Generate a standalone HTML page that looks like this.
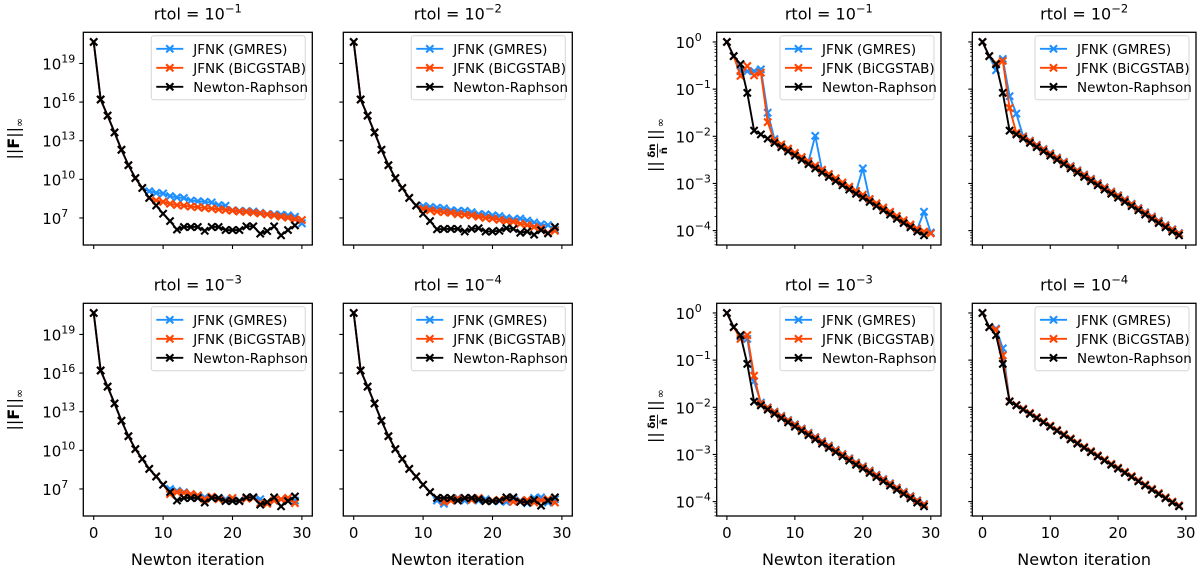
<!DOCTYPE html>
<html><head><meta charset="utf-8"><title>Newton convergence</title>
<style>
html,body{margin:0;padding:0;background:#fff;}
svg{display:block;font-family:"DejaVu Sans","Liberation Sans",sans-serif;}
</style></head>
<body>
<svg id="fig" width="1200" height="573" viewBox="0 0 1200 573" xmlns="http://www.w3.org/2000/svg"></svg>
<script>
// ---------- DATA (log10 of plotted values) ----------
const iterTicks = [0, 10, 20, 30];
const leftYTicks = [7, 10, 13, 16, 19];
const rightYTicks = [-4, -3, -2, -1, 0];
const rtolExps = [-1, -2, -3, -4];

const nrF1 = [20.67,16.2,14.95,13.64,12.3,11.1,10.1,9.33,8.56,7.97,7.33,6.76,6.1,6.3,6.3,6.3,6.0,6.3,6.3,6.06,6.06,6.06,6.35,6.35,5.78,5.98,6.35,5.65,6.06,6.42];
const nrF2 = [20.67,16.2,14.95,13.64,12.3,11.1,10.1,9.33,8.56,7.97,7.33,6.76,6.12,6.15,6.15,6.15,5.95,6.15,6.2,5.95,5.95,6.0,6.2,6.15,5.85,5.95,5.7,6.05,5.8,6.3];
const nrF3 = [20.67,16.2,14.95,13.64,12.3,11.1,10.1,9.33,8.56,7.97,7.33,6.76,6.1,6.3,6.3,6.3,5.95,6.3,6.3,6.06,6.06,6.06,6.35,6.35,5.78,5.98,6.35,5.65,6.06,6.42];
const nrF4 = [20.67,16.2,14.95,13.64,12.3,11.1,10.1,9.33,8.56,7.97,7.33,6.76,6.3,6.3,6.3,6.1,6.3,6.3,6.2,6.06,6.06,6.1,6.35,6.35,6.0,5.95,6.15,5.7,6.1,6.35];
const gmF1 = [20.67,16.2,14.95,13.64,12.3,11.1,10.1,9.33,9.08,8.95,8.9,8.7,8.6,8.55,8.35,8.3,8.25,8.2,8.0,7.95,7.6,7.55,7.53,7.5,7.4,7.3,7.28,7.25,7.2,7.1,6.58];
const bcF1 = [20.67,16.2,14.95,13.64,12.3,11.1,10.1,9.33,8.56,8.36,8.25,8.1,8.0,7.95,7.88,7.84,7.78,7.73,7.66,7.62,7.57,7.5,7.48,7.42,7.35,7.28,7.2,7.1,7.02,6.9,6.84];
const gmF2 = [20.67,16.2,14.95,13.64,12.3,11.1,10.1,9.33,8.56,7.97,7.93,7.85,7.8,7.75,7.6,7.55,7.55,7.45,7.3,7.28,7.2,7.15,7.0,6.9,6.95,6.8,6.65,6.5,6.45,6.1];
const bcF2 = [20.67,16.2,14.95,13.64,12.3,11.1,10.1,9.33,8.56,7.97,7.7,7.6,7.5,7.45,7.4,7.3,7.25,7.2,7.1,7.0,6.95,6.85,6.75,6.7,6.55,6.45,6.3,6.2,5.85,6.0];
const gmF3 = [20.67,16.2,14.95,13.64,12.3,11.1,10.1,9.33,8.56,7.97,7.33,7.0,6.85,6.75,6.6,6.45,6.35,6.3,6.3,6.2,6.1,6.1,6.3,6.35,6.2,5.9,6.1,6.2,6.3,6.1];
const bcF3 = [20.67,16.2,14.95,13.64,12.3,11.1,10.1,9.33,8.56,7.97,7.33,6.6,6.75,6.7,6.6,6.5,6.2,6.4,6.2,6.1,6.3,6.05,6.25,6.3,5.9,5.85,6.1,6.2,6.3,5.9];
const gmF4 = [20.67,16.2,14.95,13.64,12.3,11.1,10.1,9.33,8.56,7.97,7.33,6.76,6.1,5.85,6.25,6.3,6.1,6.3,6.1,6.2,6.05,6.05,6.0,6.25,6.1,5.9,6.3,6.35,5.95,6.2];
const bcF4 = [20.67,16.2,14.95,13.64,12.3,11.1,10.1,9.33,8.56,7.97,7.33,6.76,6.3,6.0,6.1,6.25,6.3,6.15,6.3,6.05,6.1,6.15,6.2,6.0,6.05,6.15,5.95,6.1,6.2,5.95];

const nrD = [0,-0.3,-0.47,-1.08,-1.88,-1.96,-2.05,-2.14,-2.23,-2.32,-2.41,-2.5,-2.59,-2.68,-2.77,-2.86,-2.95,-3.04,-3.13,-3.22,-3.3,-3.39,-3.48,-3.57,-3.66,-3.75,-3.84,-3.93,-4.02,-4.1];
const gmD1 = [0,-0.3,-0.62,-0.62,-0.62,-0.58,-1.5,-2.06,-2.18,-2.27,-2.36,-2.45,-2.54,-1.99,-2.72,-2.81,-2.9,-2.99,-3.08,-3.17,-2.68,-3.34,-3.43,-3.52,-3.61,-3.7,-3.79,-3.88,-3.97,-3.6,-4.04];
const bcD1 = [0,-0.3,-0.72,-0.51,-0.71,-0.65,-1.7,-2.1,-2.17,-2.26,-2.35,-2.44,-2.53,-2.62,-2.71,-2.8,-2.89,-2.98,-3.07,-3.16,-3.24,-3.33,-3.42,-3.51,-3.6,-3.69,-3.78,-3.87,-3.96,-4.02,-4.06];
const gmD2 = [0,-0.3,-0.6,-0.36,-1.15,-1.52,-2.0,-2.09,-2.18,-2.27,-2.36,-2.45,-2.54,-2.63,-2.72,-2.81,-2.9,-2.99,-3.08,-3.17,-3.25,-3.34,-3.43,-3.52,-3.61,-3.7,-3.79,-3.88,-3.97,-4.05];
const bcD2 = [0,-0.3,-0.45,-0.4,-1.4,-1.93,-2.01,-2.1,-2.19,-2.28,-2.37,-2.46,-2.55,-2.64,-2.73,-2.82,-2.91,-3.0,-3.09,-3.18,-3.26,-3.35,-3.44,-3.53,-3.62,-3.71,-3.8,-3.89,-3.98,-4.06];
const gmD3 = [0,-0.3,-0.5,-0.55,-1.45,-1.9,-2.0,-2.09,-2.18,-2.27,-2.36,-2.45,-2.54,-2.63,-2.72,-2.81,-2.9,-2.99,-3.08,-3.17,-3.25,-3.34,-3.43,-3.52,-3.61,-3.7,-3.79,-3.88,-3.97,-4.05];
const bcD3 = [0,-0.3,-0.55,-0.47,-1.33,-1.93,-2.01,-2.1,-2.19,-2.28,-2.37,-2.46,-2.55,-2.64,-2.73,-2.82,-2.91,-3.0,-3.09,-3.18,-3.26,-3.35,-3.44,-3.53,-3.62,-3.71,-3.8,-3.89,-3.98,-4.06];
const gmD4 = [0,-0.3,-0.33,-0.75,-1.87,-1.95,-2.03,-2.12,-2.21,-2.3,-2.39,-2.48,-2.57,-2.66,-2.75,-2.84,-2.93,-3.02,-3.11,-3.2,-3.28,-3.37,-3.46,-3.55,-3.64,-3.73,-3.82,-3.91,-4.0,-4.08];
const bcD4 = [0,-0.3,-0.35,-0.9,-1.87,-1.95,-2.03,-2.12,-2.21,-2.3,-2.39,-2.48,-2.57,-2.66,-2.75,-2.84,-2.93,-3.02,-3.11,-3.2,-3.28,-3.37,-3.46,-3.55,-3.64,-3.73,-3.82,-3.91,-4.0,-4.08];

const seriesNames = ["JFNK (GMRES)", "JFNK (BiCGSTAB)", "Newton-Raphson"];
const seriesColors = ["#1e90ff", "#ff4500", "#000000"];

// ---------- LAYOUT ----------
const NS = "http://www.w3.org/2000/svg";
const svg = document.getElementById("fig");
const X_DOMAIN = [-1.5, 31.5];
const LEFT_DOMAIN = [4.9, 21.42];
const RIGHT_DOMAIN = [-4.305, 0.205];
const ROWS = [{y: 32.3, h: 212.7}, {y: 303.3, h: 212.7}];
const LEFT_COLS = [{x: 83.3, w: 229}, {x: 343.3, w: 229}];
const RIGHT_COLS = [{x: 716.7, w: 224.3}, {x: 972.3, w: 223.7}];

function el(tag, attrs, parent) {
  const e = document.createElementNS(NS, tag);
  for (const k in attrs) e.setAttribute(k, attrs[k]);
  parent.appendChild(e);
  return e;
}

function drawPanel(opt) {
  const g = el("g", {}, svg);
  
  
  const x0 = opt.x, y0 = opt.y, w = opt.w, h = opt.h;
  const sx = v => x0 + (v - X_DOMAIN[0]) / (X_DOMAIN[1] - X_DOMAIN[0]) * w;
  const sy = v => y0 + h - (v - opt.dom[0]) / (opt.dom[1] - opt.dom[0]) * h;

  const t = el("text", {x: x0 + w / 2, y: y0 - 13, "text-anchor": "middle", "font-size": "16", fill: "#000"}, g);
  
  
  t.textContent = "rtol = 10";
  const sup = el("tspan", {dy: "-7", "font-size": "11.5"}, t);
  sup.textContent = "\u2212" + Math.abs(opt.rtol);

  const seriesList = [opt.gm, opt.bc, opt.nr];
  seriesList.forEach((arr, si) => {
    const sg = el("g", {}, g);
    
    
    const pts = arr.map((v, i) => sx(i).toFixed(2) + "," + sy(v).toFixed(2)).join(" ");
    const pl = el("polyline", {points: pts, fill: "none", stroke: seriesColors[si], "stroke-width": "1.9", "stroke-linejoin": "round"}, sg);
    
    
    arr.forEach((v, i) => {
      const cx = sx(i), cy = sy(v), r = 3.6;
      const m = el("path", {d: `M${cx - r},${cy - r}L${cx + r},${cy + r}M${cx - r},${cy + r}L${cx + r},${cy - r}`, stroke: seriesColors[si], "stroke-width": "2.1", fill: "none"}, sg);
      
      
    });
  });

  const fr = el("rect", {x: x0, y: y0, width: w, height: h, fill: "none", stroke: "#000", "stroke-width": "1.3"}, g);
  
  

  iterTicks.forEach(v => {
    const tx = sx(v);
    const tk = el("line", {x1: tx, x2: tx, y1: y0 + h, y2: y0 + h + 4, stroke: "#000", "stroke-width": "1.1"}, g);
    
    
    if (opt.xlabels) {
      const tl = el("text", {x: tx, y: y0 + h + 22, "text-anchor": "middle", "font-size": "15", fill: "#000"}, g);
      
      
      tl.textContent = String(v);
    }
  });
  if (opt.xlabels) {
    const xl = el("text", {x: x0 + w / 2, y: y0 + h + 49, "text-anchor": "middle", "font-size": "16", fill: "#000"}, g);
    
    
    xl.textContent = "Newton iteration";
  }

  if (opt.minor) {
    for (let d = -5; d <= 0; d++) {
      for (let k = 2; k <= 9; k++) {
        const v = d + Math.log10(k);
        if (v < opt.dom[0] || v > opt.dom[1]) continue;
        const mt = el("line", {x1: x0 - 2.2, x2: x0, y1: sy(v), y2: sy(v), stroke: "#000", "stroke-width": "0.8"}, g);
        
        
      }
    }
  }
  opt.yticks.forEach(v => {
    const ty = sy(v);
    const tk = el("line", {x1: x0 - 4, x2: x0, y1: ty, y2: ty, stroke: "#000", "stroke-width": "1.1"}, g);
    
    
    if (opt.ylabels) {
      const tl = el("text", {x: x0 - 22, y: ty + 6, "text-anchor": "end", "font-size": "15", fill: "#000"}, g);
      
      
      tl.textContent = "10";
      const s = el("tspan", {x: x0 - 22, dy: "-7", "font-size": "11", "text-anchor": "start"}, tl);
      s.textContent = v < 0 ? "\u2212" + Math.abs(v) : String(v);
    }
  });

  const lw = 154, lh = 64;
  const lx = x0 + w - lw - 7, ly = y0 + 3.5;
  const lg = el("g", {}, g);
  
  
  const lb = el("rect", {x: lx, y: ly, width: lw, height: lh, rx: 2.5, fill: "#fff", "fill-opacity": "0.85", stroke: "#d6d6d6", "stroke-width": "1"}, lg);
  
  
  seriesNames.forEach((nm, i) => {
    const ey = ly + 13 + i * 19;
    const eg = el("g", {}, lg);
    
    
    el("line", {x1: lx + 5, x2: lx + 32, y1: ey, y2: ey, stroke: seriesColors[i], "stroke-width": "1.9"}, eg);
    const mx = lx + 18.5, r = 3.6;
    el("path", {d: `M${mx - r},${ey - r}L${mx + r},${ey + r}M${mx - r},${ey + r}L${mx + r},${ey - r}`, stroke: seriesColors[i], "stroke-width": "2.1"}, eg);
    const lt = el("text", {x: lx + 42, y: ey + 5, "font-size": "13.5", fill: "#000"}, eg);
    
    
    lt.textContent = nm;
  });
}

const leftSets = [[gmF1, bcF1, nrF1], [gmF2, bcF2, nrF2], [gmF3, bcF3, nrF3], [gmF4, bcF4, nrF4]];
const rightSets = [[gmD1, bcD1, nrD], [gmD2, bcD2, nrD], [gmD3, bcD3, nrD], [gmD4, bcD4, nrD]];

for (let r = 0; r < 2; r++) {
  for (let c = 0; c < 2; c++) {
    const idx = r * 2 + c;
    drawPanel({name: 'residual-panel-rtol-' + (idx + 1), x: LEFT_COLS[c].x, w: LEFT_COLS[c].w, y: ROWS[r].y, h: ROWS[r].h,
      dom: LEFT_DOMAIN, yticks: leftYTicks, ylabels: c === 0, xlabels: r === 1, minor: false, rtol: rtolExps[idx],
      gm: leftSets[idx][0], bc: leftSets[idx][1], nr: leftSets[idx][2]});
    drawPanel({name: 'update-panel-rtol-' + (idx + 1), x: RIGHT_COLS[c].x, w: RIGHT_COLS[c].w, y: ROWS[r].y, h: ROWS[r].h,
      dom: RIGHT_DOMAIN, yticks: rightYTicks, ylabels: c === 0, xlabels: r === 1, minor: true, rtol: rtolExps[idx],
      gm: rightSets[idx][0], bc: rightSets[idx][1], nr: rightSets[idx][2]});
  }
}

for (let r = 0; r < 2; r++) {
  const cy = ROWS[r].y + ROWS[r].h / 2;
  const yl = el("text", {x: 0, y: 0, transform: `translate(19,${cy}) rotate(-90)`, "text-anchor": "middle", "font-size": "16", fill: "#000"}, svg);
  
  
  yl.textContent = "||";
  const b = el("tspan", {"font-weight": "bold"}, yl);
  b.textContent = "F";
  const b2 = el("tspan", {}, yl);
  b2.textContent = "||";
  const inf = el("tspan", {dy: "4", "font-size": "11"}, yl);
  inf.textContent = "\u221e";

  const g2 = el("g", {transform: `translate(660,${cy}) rotate(-90)`}, svg);
  
  
  const p1 = el("text", {x: -28, y: 0, "font-size": "16", "text-anchor": "middle"}, g2);
  p1.textContent = "||";
  const num = el("text", {x: -12, y: -5, "font-size": "10", "text-anchor": "middle", "font-weight": "bold"}, g2);
  num.textContent = "\u03b4n";
  el("line", {x1: -19, x2: -5, y1: -2.5, y2: -2.5, stroke: "#000", "stroke-width": "0.9"}, g2);
  const den = el("text", {x: -12, y: 7, "font-size": "10", "text-anchor": "middle", "font-weight": "bold"}, g2);
  den.textContent = "n\u0304";
  const p2 = el("text", {x: 4, y: 0, "font-size": "16", "text-anchor": "middle"}, g2);
  p2.textContent = "||";
  const i2 = el("text", {x: 16, y: 4, "font-size": "11", "text-anchor": "middle"}, g2);
  i2.textContent = "\u221e";
}
</script>
</body></html>
